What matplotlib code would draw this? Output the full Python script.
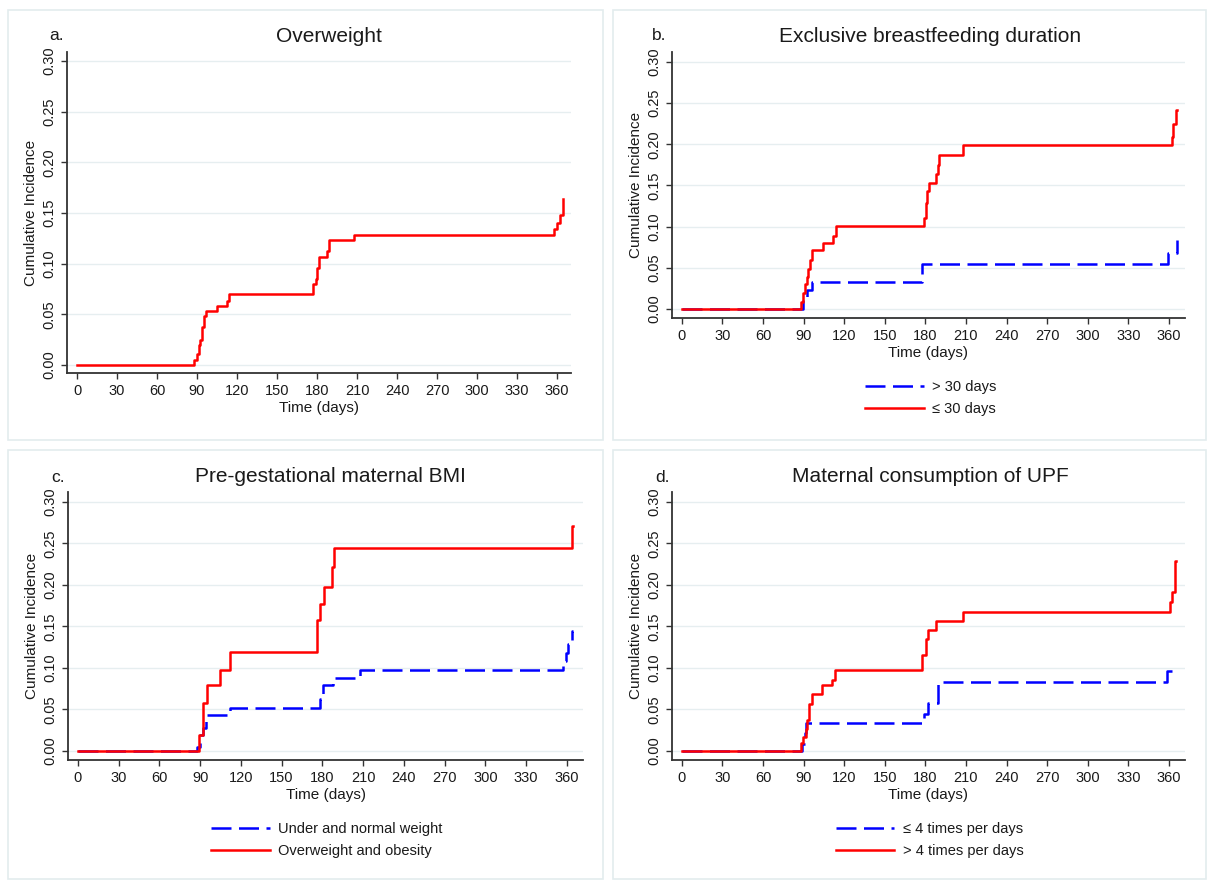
import matplotlib
matplotlib.use("Agg")
import matplotlib.pyplot as plt
from matplotlib.patches import Rectangle

plt.rcParams['font.family'] = ['Liberation Sans', 'DejaVu Sans']

# a. Overweight (whole sample)
a_days = [0, 88.0, 89.75, 91.25, 92.25, 93.5, 95.5, 96.5, 105, 112.25, 114.25, 177.25, 179,
          180.25, 181.5, 187.25, 189, 208, 358, 360.25, 362, 364.25, 364.75]
a_ci = [0, 0.005, 0.011, 0.020, 0.025, 0.037, 0.048, 0.053, 0.058, 0.063, 0.070, 0.080, 0.085,
        0.096, 0.107, 0.112, 0.123, 0.128, 0.134, 0.140, 0.148, 0.164, 0.164]

# b. Exclusive breastfeeding duration
b_long_days = [0, 89.9, 92.3, 96.0, 177.8, 359.0, 365.6, 365.8]
b_long_ci = [0, 0.012, 0.023, 0.033, 0.055, 0.068, 0.084, 0.084]
b_short_days = [0, 88.1, 89.4, 91.1, 92.3, 93.5, 94.8, 96.0, 104.6, 112.0, 113.7, 179.0, 180.5,
                181.5, 182.7, 187.9, 189.1, 190.3, 208.1, 362.0, 363.2, 365.2, 365.8]
b_short_ci = [0, 0.0085, 0.019, 0.030, 0.039, 0.049, 0.060, 0.071, 0.080, 0.089, 0.101, 0.110, 0.129,
              0.143, 0.153, 0.164, 0.175, 0.187, 0.199, 0.209, 0.224, 0.241, 0.241]

# c. Pre-gestational maternal BMI
c_normal_days = [0, 88.1, 89.8, 92.3, 94.7, 111.9, 178.2, 180.6, 188.0, 207.6, 357.3, 359.5, 361.0,
                 363.9, 364.4]
c_normal_ci = [0, 0.005, 0.019, 0.027, 0.043, 0.052, 0.062, 0.079, 0.088, 0.098, 0.108, 0.118, 0.129,
               0.144, 0.144]
c_obese_days = [0, 89.1, 91.8, 95.0, 104.5, 111.9, 176.2, 178.2, 181.4, 186.8, 188.7, 363.9, 364.4]
c_obese_ci = [0, 0.019, 0.058, 0.079, 0.098, 0.119, 0.158, 0.177, 0.198, 0.222, 0.244, 0.271, 0.271]

# d. Maternal consumption of UPF
d_low_days = [0, 89.2, 91.2, 92.1, 178.9, 182.1, 189.4, 358.7, 364.4]
d_low_ci = [0, 0.008, 0.021, 0.034, 0.045, 0.058, 0.083, 0.096, 0.096]
d_high_days = [0, 88.2, 89.9, 91.6, 92.9, 94.1, 96.1, 103.9, 111.3, 113.0, 177.6, 180.6, 181.8,
               187.5, 207.9, 360.7, 362.4, 364.4, 365.1]
d_high_ci = [0, 0.009, 0.017, 0.026, 0.037, 0.057, 0.069, 0.079, 0.086, 0.098, 0.116, 0.135, 0.146,
             0.157, 0.167, 0.179, 0.192, 0.229, 0.229]

x_ticks = list(range(0, 361, 30))
y_ticks = [0.00, 0.05, 0.10, 0.15, 0.20, 0.25, 0.30]

W, H = 1207, 880
fig = plt.figure(figsize=(W / 100, H / 100), dpi=100)

# light panel frames
for x0, y0, x1, y1 in [(8, 10, 603, 440), (613, 10, 1206, 440), (8, 450, 603, 879), (613, 450, 1206, 879)]:
    fig.patches.append(Rectangle((x0 / W, 1 - y1 / H), (x1 - x0) / W, (y1 - y0) / H,
                                 transform=fig.transFigure, fill=False, edgecolor='#e3ecee', lw=1.2))


def make_axes(left, top, right, bottom, xlim, ylim):
    ax = fig.add_axes([left / W, 1 - bottom / H, (right - left) / W, (bottom - top) / H])
    ax.set_xlim(*xlim)
    ax.set_ylim(*ylim)
    for s in ['top', 'right']:
        ax.spines[s].set_visible(False)
    for s in ['left', 'bottom']:
        ax.spines[s].set_color('#333333')
        ax.spines[s].set_linewidth(1.3)
    ax.set_xticks(x_ticks)
    ax.set_yticks(y_ticks)
    ax.set_yticklabels([f"{v:.2f}" for v in y_ticks], rotation=90, va='center')
    ax.tick_params(direction='out', length=4, width=1, color='#333333', labelsize=10.5,
                   labelcolor='#1a1a1a', pad=4)
    ax.yaxis.grid(True, color='#e6eef0', lw=1)
    ax.set_axisbelow(True)
    ax.set_xlabel("Time (days)", fontsize=11, color='#1a1a1a', labelpad=2)
    ax.set_ylabel("Cumulative Incidence", fontsize=11, color='#1a1a1a', labelpad=3)
    return ax


def red_line(ax, days, ci, label=None):
    ax.step(days, ci, where='post', color='#ff0000', lw=1.8, label=label)


def blue_line(ax, days, ci, label=None):
    ax.step(days, ci, where='post', color='#0000ff', lw=1.8, dashes=(8, 3), label=label)


def panel_title(letter, title, lx, tx, ty):
    fig.text(lx / W, 1 - ty / H, letter, fontsize=12.5, ha='left', va='center', color='#1a1a1a')
    fig.text(tx / W, 1 - ty / H, title, fontsize=15, ha='center', va='center', color='#1a1a1a')


def legend(ax, cx, cy):
    ax.legend(loc='center', bbox_to_anchor=(cx / W, 1 - cy / H), bbox_transform=fig.transFigure,
              frameon=False, fontsize=10.5, handlelength=4.0, handletextpad=0.6, labelspacing=0.5,
              labelcolor='#1a1a1a')


# a
ax_a = make_axes(67, 52, 571, 373, (-7.5, 370.5), (-0.008, 0.309))
red_line(ax_a, a_days, a_ci)
panel_title("a.", "Overweight", 49, 329, 36)

# b
ax_b = make_axes(672, 52, 1185, 318, (-7.2, 371.8), (-0.011, 0.312))
blue_line(ax_b, b_long_days, b_long_ci, "> 30 days")
red_line(ax_b, b_short_days, b_short_ci, "≤ 30 days")
panel_title("b.", "Exclusive breastfeeding duration", 652, 930, 36)
legend(ax_b, 931, 398)

# c
ax_c = make_axes(68, 492, 583, 760, (-7.2, 371.8), (-0.011, 0.312))
blue_line(ax_c, c_normal_days, c_normal_ci, "Under and normal weight")
red_line(ax_c, c_obese_days, c_obese_ci, "Overweight and obesity")
panel_title("c.", "Pre-gestational maternal BMI", 51, 330, 477)
legend(ax_c, 327, 840)

# d
ax_d = make_axes(672, 492, 1185, 760, (-7.2, 371.8), (-0.011, 0.312))
blue_line(ax_d, d_low_days, d_low_ci, "≤ 4 times per days")
red_line(ax_d, d_high_days, d_high_ci, "> 4 times per days")
panel_title("d.", "Maternal consumption of UPF", 655, 930, 477)
legend(ax_d, 930, 840)

fig.savefig("out.png", dpi=100)
